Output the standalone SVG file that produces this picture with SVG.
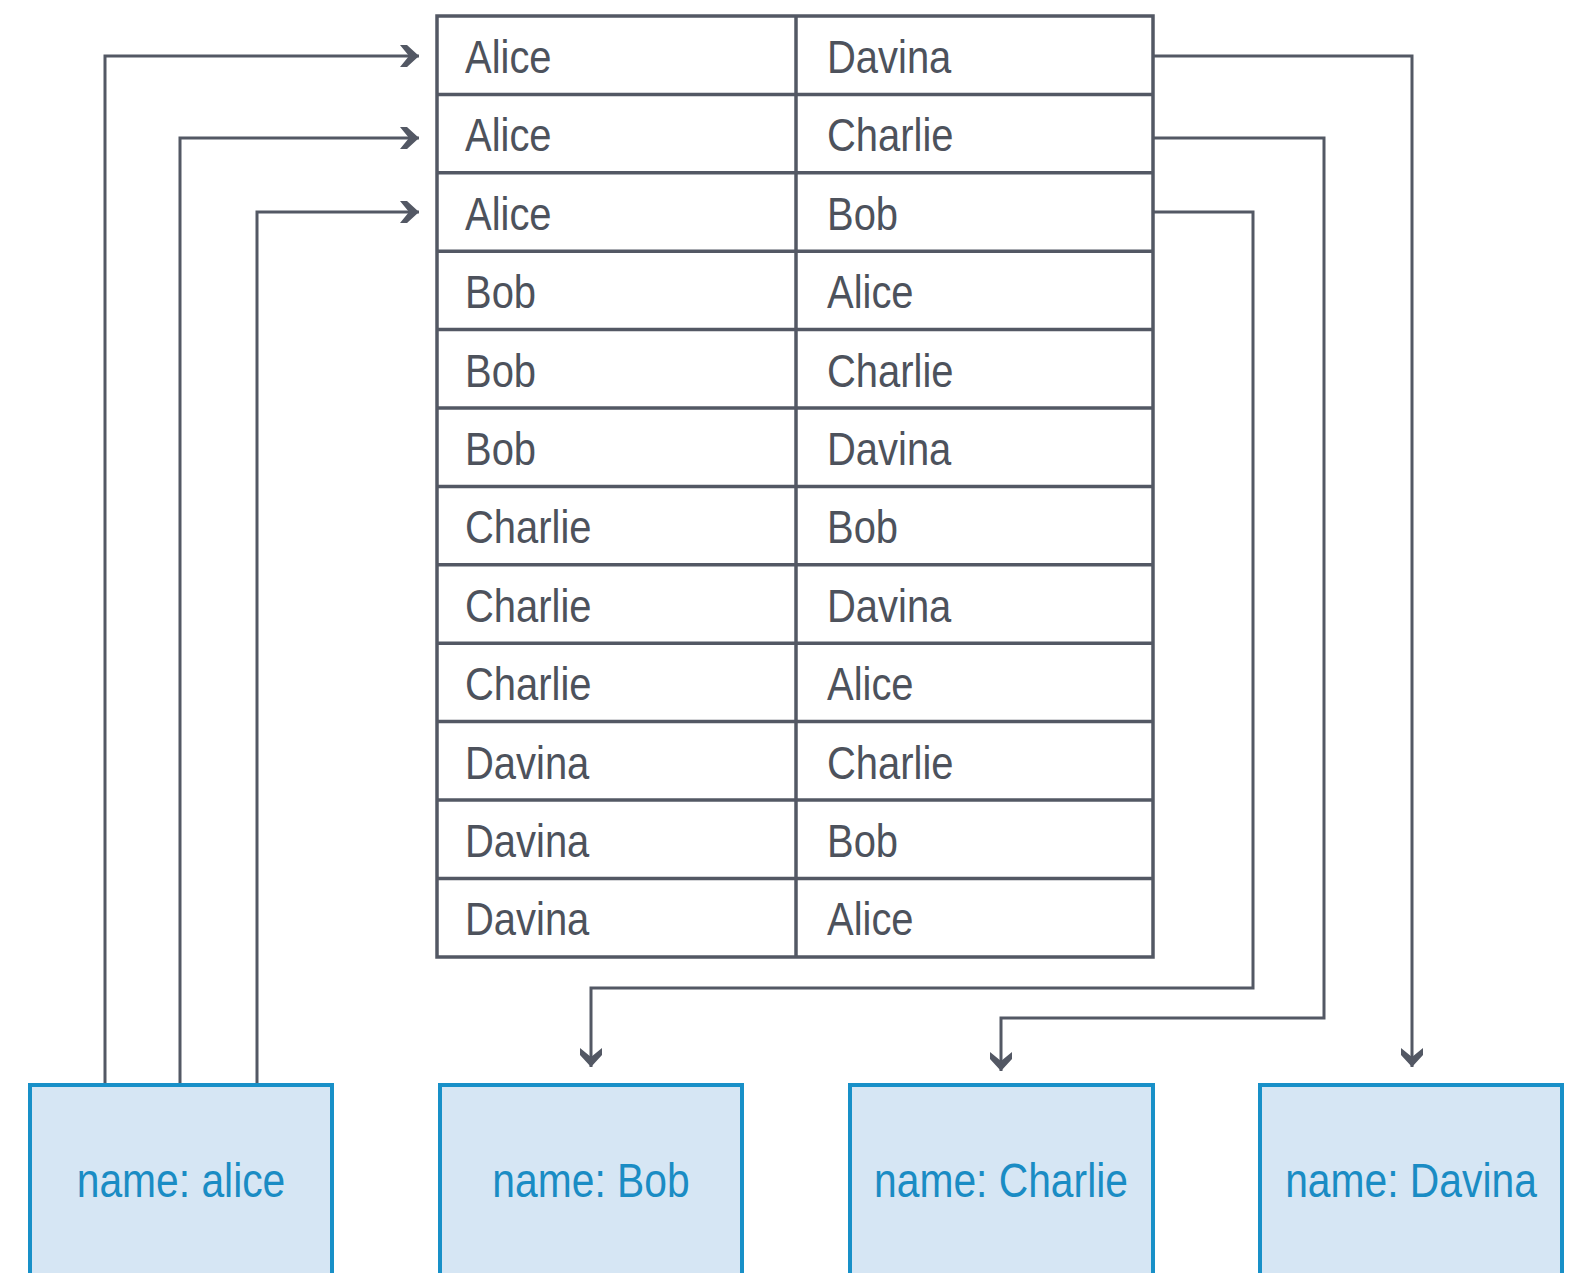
<svg xmlns="http://www.w3.org/2000/svg" width="1576" height="1273" viewBox="0 0 1576 1273">
<style>
.cell{fill:#ffffff;stroke:#535864;stroke-width:3.5}
.t{font-family:"Liberation Sans",Arial,sans-serif;font-size:47px;fill:#4d525c}
.conn{fill:none;stroke:#535864;stroke-width:3}
.node{fill:#d6e6f4;stroke:#1890c8;stroke-width:4}
.nt{font-family:"Liberation Sans",Arial,sans-serif;font-size:48px;fill:#1a8cc4;text-anchor:middle}
</style>
<defs>
<marker id="arr" markerUnits="userSpaceOnUse" viewBox="0 0 20 24" markerWidth="20" markerHeight="24" refX="20" refY="12" orient="auto">
<path d="M1,1 L8,1 L20,12 L8,23 L1,23 L10,12 z" fill="#535864"/>
</marker>
</defs>
<g id="table">
<rect class="cell" x="437" y="16" width="716" height="941"/>
<g stroke="#535864" stroke-width="3.5">
<line x1="796" y1="16" x2="796" y2="957"/>
<line x1="437" y1="94.4" x2="1153" y2="94.4"/>
<line x1="437" y1="172.8" x2="1153" y2="172.8"/>
<line x1="437" y1="251.2" x2="1153" y2="251.2"/>
<line x1="437" y1="329.6" x2="1153" y2="329.6"/>
<line x1="437" y1="408" x2="1153" y2="408"/>
<line x1="437" y1="486.4" x2="1153" y2="486.4"/>
<line x1="437" y1="564.8" x2="1153" y2="564.8"/>
<line x1="437" y1="643.2" x2="1153" y2="643.2"/>
<line x1="437" y1="721.6" x2="1153" y2="721.6"/>
<line x1="437" y1="800" x2="1153" y2="800"/>
<line x1="437" y1="878.4" x2="1153" y2="878.4"/>
</g>
<g class="t">
<text transform="translate(465,73) scale(0.85,1)">Alice</text>
<text transform="translate(827,73) scale(0.85,1)">Davina</text>
<text transform="translate(465,151.4) scale(0.85,1)">Alice</text>
<text transform="translate(827,151.4) scale(0.85,1)">Charlie</text>
<text transform="translate(465,229.8) scale(0.85,1)">Alice</text>
<text transform="translate(827,229.8) scale(0.85,1)">Bob</text>
<text transform="translate(465,308.2) scale(0.85,1)">Bob</text>
<text transform="translate(827,308.2) scale(0.85,1)">Alice</text>
<text transform="translate(465,386.6) scale(0.85,1)">Bob</text>
<text transform="translate(827,386.6) scale(0.85,1)">Charlie</text>
<text transform="translate(465,465) scale(0.85,1)">Bob</text>
<text transform="translate(827,465) scale(0.85,1)">Davina</text>
<text transform="translate(465,543.4) scale(0.85,1)">Charlie</text>
<text transform="translate(827,543.4) scale(0.85,1)">Bob</text>
<text transform="translate(465,621.8) scale(0.85,1)">Charlie</text>
<text transform="translate(827,621.8) scale(0.85,1)">Davina</text>
<text transform="translate(465,700.2) scale(0.85,1)">Charlie</text>
<text transform="translate(827,700.2) scale(0.85,1)">Alice</text>
<text transform="translate(465,778.6) scale(0.85,1)">Davina</text>
<text transform="translate(827,778.6) scale(0.85,1)">Charlie</text>
<text transform="translate(465,857) scale(0.85,1)">Davina</text>
<text transform="translate(827,857) scale(0.85,1)">Bob</text>
<text transform="translate(465,935.4) scale(0.85,1)">Davina</text>
<text transform="translate(827,935.4) scale(0.85,1)">Alice</text>
</g>
</g>
<g id="connectors">
<path class="conn" d="M105,1085 V56 H419" marker-end="url(#arr)"/>
<path class="conn" d="M180,1085 V138 H419" marker-end="url(#arr)"/>
<path class="conn" d="M257,1085 V212 H419" marker-end="url(#arr)"/>
<path class="conn" d="M1153,56 H1412 V1067" marker-end="url(#arr)"/>
<path class="conn" d="M1153,138 H1324 V1018 H1001 V1071" marker-end="url(#arr)"/>
<path class="conn" d="M1153,212 H1253 V988 H591 V1067" marker-end="url(#arr)"/>
</g>
<g id="node-alice">
<rect class="node" x="30" y="1085" width="302" height="200"/>
<text class="nt" transform="translate(181,1197) scale(0.85,1)">name: alice</text>
</g>
<g id="node-bob">
<rect class="node" x="440" y="1085" width="302" height="200"/>
<text class="nt" transform="translate(591,1197) scale(0.85,1)">name: Bob</text>
</g>
<g id="node-charlie">
<rect class="node" x="850" y="1085" width="303" height="200"/>
<text class="nt" transform="translate(1001,1197) scale(0.85,1)">name: Charlie</text>
</g>
<g id="node-davina">
<rect class="node" x="1260" y="1085" width="302" height="200"/>
<text class="nt" transform="translate(1411,1197) scale(0.85,1)">name: Davina</text>
</g>
</svg>
